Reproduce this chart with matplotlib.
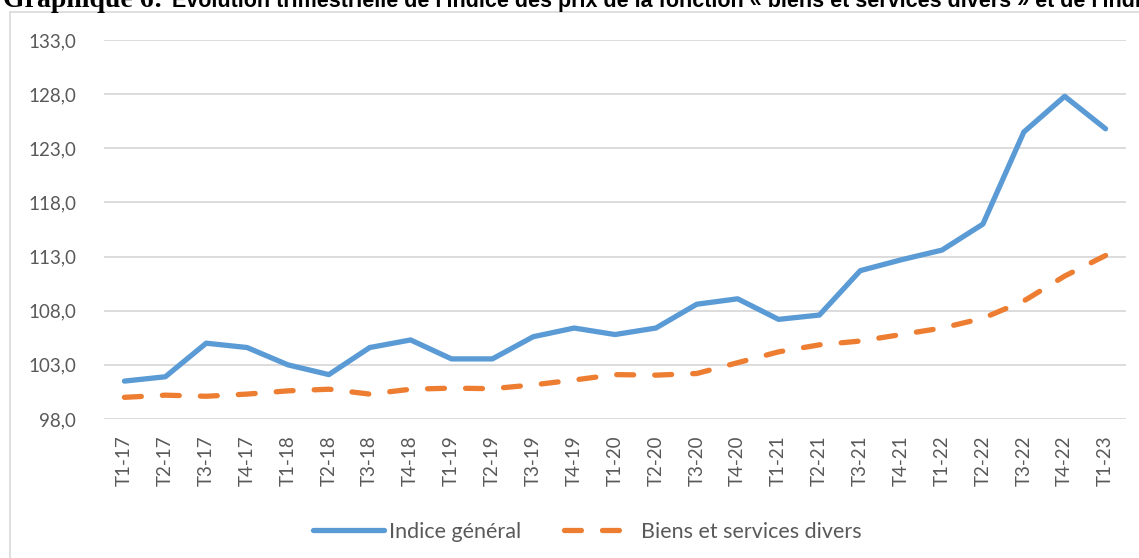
#!/usr/bin/env python3
# -*- coding: utf-8 -*-

"""
Graphique 6 — indice général vs indice « biens et services divers »
(trimestriel, T1-17 à T1-23)
"""

import matplotlib
matplotlib.use("Agg")
import matplotlib.pyplot as plt
import matplotlib.ticker as ticker
from matplotlib.patches import Rectangle


# ============================================================
# Données
# ============================================================

trimestres = [
    "T1-17", "T2-17", "T3-17", "T4-17",
    "T1-18", "T2-18", "T3-18", "T4-18",
    "T1-19", "T2-19", "T3-19", "T4-19",
    "T1-20", "T2-20", "T3-20", "T4-20",
    "T1-21", "T2-21", "T3-21", "T4-21",
    "T1-22", "T2-22", "T3-22", "T4-22",
    "T1-23",
]

indice_general = [
    101.5, 101.9, 105.0, 104.6,
    103.0, 102.1, 104.6, 105.3,
    103.55, 103.55, 105.6, 106.4,
    105.8, 106.4, 108.6, 109.1,
    107.2, 107.6, 111.7, 112.7,
    113.6, 116.0, 124.5, 127.8,
    124.8,
]

biens_services_divers = [
    100.0, 100.2, 100.1, 100.3,
    100.6, 100.75, 100.3, 100.75,
    100.85, 100.8, 101.15, 101.6,
    102.1, 102.05, 102.2, 103.2,
    104.2, 104.85, 105.2, 105.8,
    106.4, 107.3, 108.9, 111.2,
    113.1,
]

graduations_y = [98, 103, 108, 113, 118, 123, 128, 133]

titre_debut = "Graphique 6:"
titre_suite = ("Évolution trimestrielle de l'indice des prix de la fonction "
               "« biens et services divers » et de l'indice général")


# ============================================================
# Figure
# ============================================================

BLEU = "#5B9BD5"
ORANGE = "#ED7D31"
GRIS_GRILLE = "#D9D9D9"
GRIS_TEXTE = "#595959"

plt.rcParams["font.family"] = ["Lato", "DejaVu Sans"]

W, H = 1139, 558
fig = plt.figure(figsize=(W / 100, H / 100), dpi=100)

# cadre du graphique (coupé à droite et en bas)
fig.patches.append(Rectangle((10 / W, -0.05), 1.2, 1 - 12 / H + 0.05,
                             transform=fig.transFigure, fill=False,
                             edgecolor=GRIS_GRILLE, linewidth=1.2))

ax = fig.add_axes([104 / W, 1 - 419 / H, (1126 - 104) / W, (419 - 40) / H])

x = list(range(len(trimestres)))

ax.plot(x, indice_general, color=BLEU, linewidth=3.8,
        solid_capstyle="round", solid_joinstyle="round",
        label="Indice général")
ax.plot(x, biens_services_divers, color=ORANGE, linewidth=3.8,
        dashes=(3.2, 4.0), dash_capstyle="round",
        label="Biens et services divers")

ax.set_xlim(-0.5, len(trimestres) - 0.5)
ax.set_ylim(98, 133)
ax.set_yticks(graduations_y)
ax.yaxis.set_major_formatter(
    ticker.FuncFormatter(lambda v, p: f"{v:.1f}".replace(".", ",")))
ax.set_xticks(x)
ax.set_xticklabels(trimestres, rotation=90)

ax.grid(True, axis="y", color=GRIS_GRILLE, linewidth=1.3)
ax.set_axisbelow(True)
for cote in ["top", "right", "left", "bottom"]:
    ax.spines[cote].set_visible(False)
ax.tick_params(axis="both", length=0, labelsize=13.5, colors=GRIS_TEXTE)
ax.tick_params(axis="y", pad=20)
ax.tick_params(axis="x", pad=12)

fig.legend(loc="center", bbox_to_anchor=(587 / W, 1 - 532 / H),
           ncol=2, frameon=False, fontsize=15.5, handlelength=3.3,
           handletextpad=0.25, columnspacing=2.0, labelcolor=GRIS_TEXTE)

# titre coupé en haut de l'image (deux polices, comme dans le document)
t1 = fig.text(3 / W, 1 - 7 / H, titre_debut, fontsize=20,
              fontweight="bold", family="Liberation Serif", va="baseline")
fig.canvas.draw()
fin_t1 = t1.get_window_extent().x1
fig.text((fin_t1 + 9) / W, 1 - 7 / H, titre_suite, fontsize=15.5,
         fontweight="bold", family="Liberation Sans", va="baseline")

fig.savefig("out.png", dpi=100)
plt.close(fig)
